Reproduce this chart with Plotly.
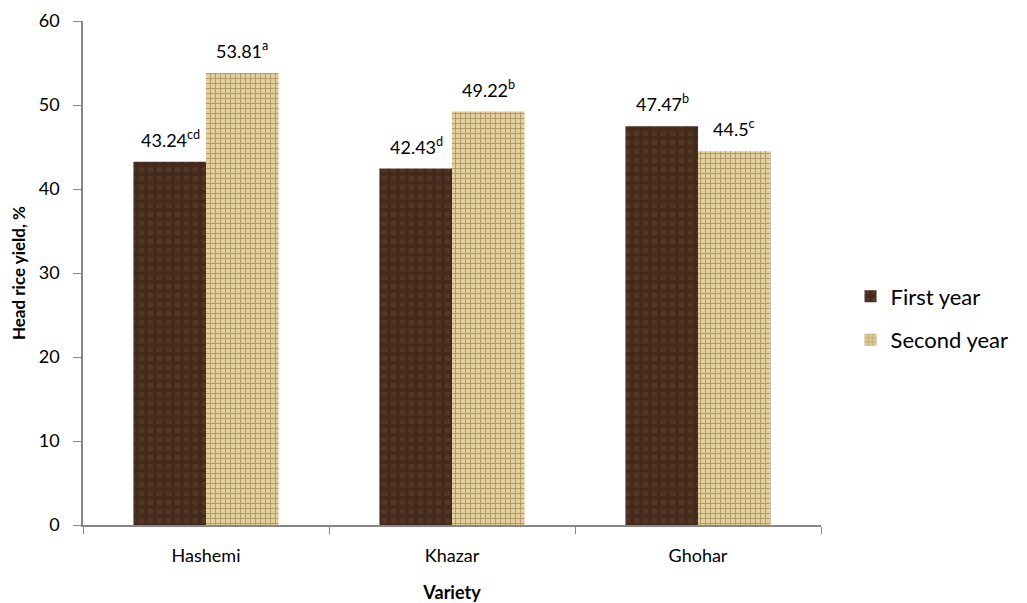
import plotly.graph_objects as go

varieties = ["Hashemi", "Khazar", "Ghohar"]
first_year = [43.24, 42.43, 47.47]
second_year = [53.81, 49.22, 44.5]
first_letters = ["cd", "d", "b"]
second_letters = ["a", "b", "c"]

def labels(vals, letters):
    return [f"{v:g}<sup>{l}</sup>" for v, l in zip(vals, letters)]

FONT = "Lato, Open Sans, sans-serif"

fig = go.Figure()
fig.add_trace(go.Bar(
    x=varieties, y=first_year, name="First year", legendgroup="g1",
    marker=dict(color="#4a2f20", line=dict(width=0),
                pattern=dict(shape=".", fgcolor="#5e4030", bgcolor="#452a1c", size=9, solidity=0.35)),
))
fig.add_trace(go.Bar(
    x=varieties, y=second_year, name="Second year", legendgroup="g2",
    marker=dict(color="#d6be88", line=dict(width=0),
                pattern=dict(shape="+", fgcolor="#806236", bgcolor="#e4d09c", size=5, solidity=0.35)),
))

# data labels placed above each bar (offset to the bar within its group)
for vals, letters, shift in [(first_year, first_letters, -36), (second_year, second_letters, 36)]:
    for cat, v, t in zip(varieties, vals, labels(vals, letters)):
        fig.add_annotation(x=cat, y=v, xref="x", yref="y", text=t, showarrow=False,
                           xshift=shift, yshift=9, yanchor="bottom",
                           font=dict(size=18, color="#000000", family=FONT))

fig.update_layout(
    width=1027, height=603,
    margin=dict(l=75, r=214, t=13, b=86),
    plot_bgcolor="white", paper_bgcolor="white",
    barmode="group", bargap=0.41, bargroupgap=0,
    font=dict(family=FONT, size=18, color="#000000"),
    showlegend=True,
    legend=dict(x=1.04, y=0.41, xanchor="left", yanchor="middle",
                font=dict(size=22, family=FONT), tracegroupgap=12,
                itemwidth=30),
)
fig.update_xaxes(
    automargin=False,
    showline=True, linecolor="#868686", linewidth=1.5,
    ticks="outside", tickson="boundaries", ticklen=7, tickcolor="#868686",
    tickfont=dict(size=18), showgrid=False, ticklabelstandoff=14,
    title=dict(text="<b>Variety</b>", font=dict(size=18), standoff=21),
)
fig.update_yaxes(
    automargin=False,
    range=[0, 60], dtick=10, showline=True, linecolor="#868686", linewidth=1.5,
    ticks="outside", ticklen=8, tickcolor="#868686", tickfont=dict(size=18),
    showgrid=False, zeroline=False, ticklabelstandoff=10,
    title=dict(text="<b>Head rice yield, %</b>", font=dict(size=17), standoff=10),
)

fig.write_html("out.html")
